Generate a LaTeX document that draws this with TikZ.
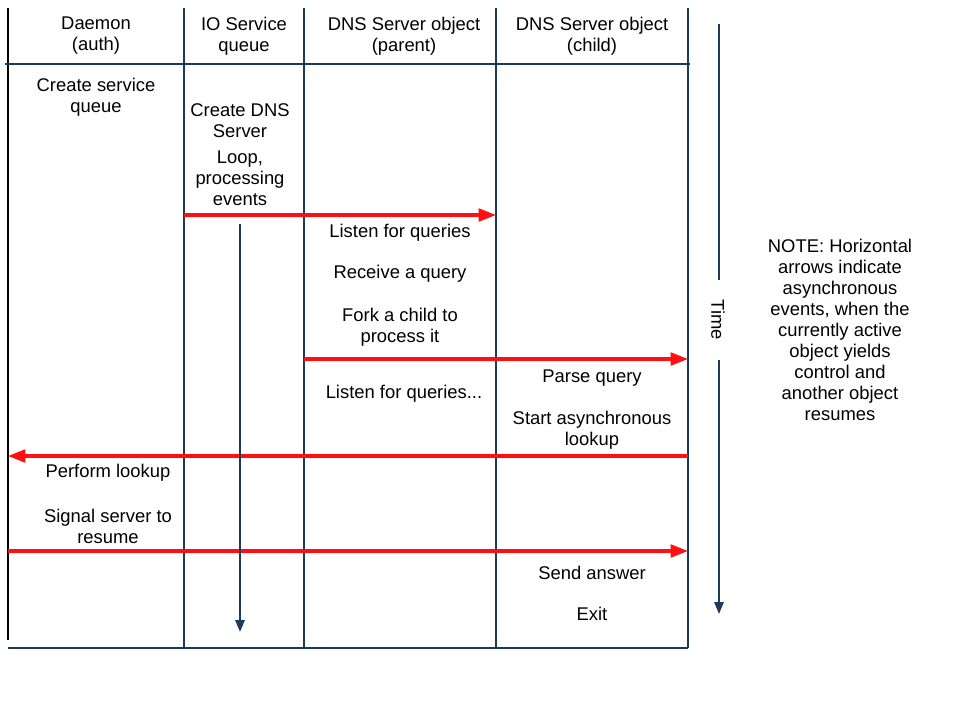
\documentclass[tikz,border=0pt]{standalone}
\usepackage{fontspec}
\setmainfont{Liberation Sans}
\usetikzlibrary{arrows.meta}
\definecolor{navy}{HTML}{1B3A5C}
\definecolor{ared}{HTML}{FF1010}
\begin{document}
\begin{tikzpicture}[x=0.75pt,y=-0.75pt,
  lane/.style={draw=navy,line width=1.5pt},
  msg/.style={draw=ared,line width=2.4pt,-{Triangle[length=13pt,width=9.5pt]}},
  flow/.style={draw=navy,line width=1.5pt,-{Triangle[length=9pt,width=7pt]}},
  txt/.style={align=center,font=\fontsize{13.8}{15.75}\selectfont,inner sep=0pt}]
\useasboundingbox (0,0) rectangle (960,720);
% lane lines
\coordinate (l0t) at (8,8);   \coordinate (l0b) at (8,640);
\coordinate (l1t) at (184,8); \coordinate (l1b) at (184,648);
\coordinate (l2t) at (304,8); \coordinate (l2b) at (304,648);
\coordinate (l3t) at (496,8); \coordinate (l3b) at (496,648);
\coordinate (l4t) at (688,8); \coordinate (l4b) at (688,648);
\coordinate (hl) at (5,64); \coordinate (hr) at (690,64);
\coordinate (bl) at (8,648); \coordinate (br) at (688,648);
\draw[line width=1.5pt,black] (l0t) -- (l0b);
\draw[lane] (l1t) -- (l1b);
\draw[lane] (l2t) -- (l2b);
\draw[lane] (l3t) -- (l3b);
\draw[lane] (l4t) -- (l4b);
\draw[lane] (hl) -- (hr);
\draw[lane] (bl) -- (br);
% headers
\node[txt] (h0) at (96,36) {Daemon\\(auth)};
\node[txt] (h1) at (244,36) {IO Service\\queue};
\node[txt] (h2) at (404,36) {DNS Server object\\(parent)};
\node[txt] (h3) at (592,36) {DNS Server object\\(child)};
% body texts
\node[txt] (t1) at (96,97) {Create service\\queue};
\node[txt] (t2) at (240,121) {Create DNS\\Server};
\node[txt] (t3) at (240,178) {Loop,\\processing\\events};
\node[txt] (t4) at (400,233) {Listen for queries};
\node[txt] (t5) at (400,274) {Receive a query};
\node[txt] (t6) at (400,327) {Fork a child to\\process it};
\node[txt] (t7) at (404,394) {Listen for queries...};
\node[txt] (t8) at (592,378) {Parse query};
\node[txt] (t9) at (592,430) {Start asynchronous\\lookup};
\node[txt] (t10) at (108,473) {Perform lookup};
\node[txt] (t11) at (108,526) {Signal server to\\resume};
\node[txt] (t12) at (592,573) {Send answer};
\node[txt] (t13) at (592,614) {Exit};
\node[txt] (note) at (840,329.5) {NOTE: Horizontal\\arrows indicate\\asynchronous\\events, when the\\currently active\\object yields\\control and\\another object\\resumes};
% messages
\coordinate (m1a) at (184,215); \coordinate (m1b) at (496,215);
\coordinate (m2a) at (304,359); \coordinate (m2b) at (688,359);
\coordinate (m3a) at (688,456); \coordinate (m3b) at (8,456);
\coordinate (m4a) at (8,551);   \coordinate (m4b) at (688,551);
\draw[msg] (m1a) -- (m1b);
\draw[msg] (m2a) -- (m2b);
\draw[msg] (m3a) -- (m3b);
\draw[msg] (m4a) -- (m4b);
% IO loop arrow
\coordinate (ioa) at (240,224); \coordinate (iob) at (240,632);
\draw[flow] (ioa) -- (iob);
% time axis
\node[txt,rotate=-90] (time) at (718,320) {Time};
\coordinate (ta) at (719,24); \coordinate (tb) at (719,614);
\draw[lane] (ta) -- (719,280);
\draw[flow] (719,360) -- (tb);
\end{tikzpicture}
\end{document}
